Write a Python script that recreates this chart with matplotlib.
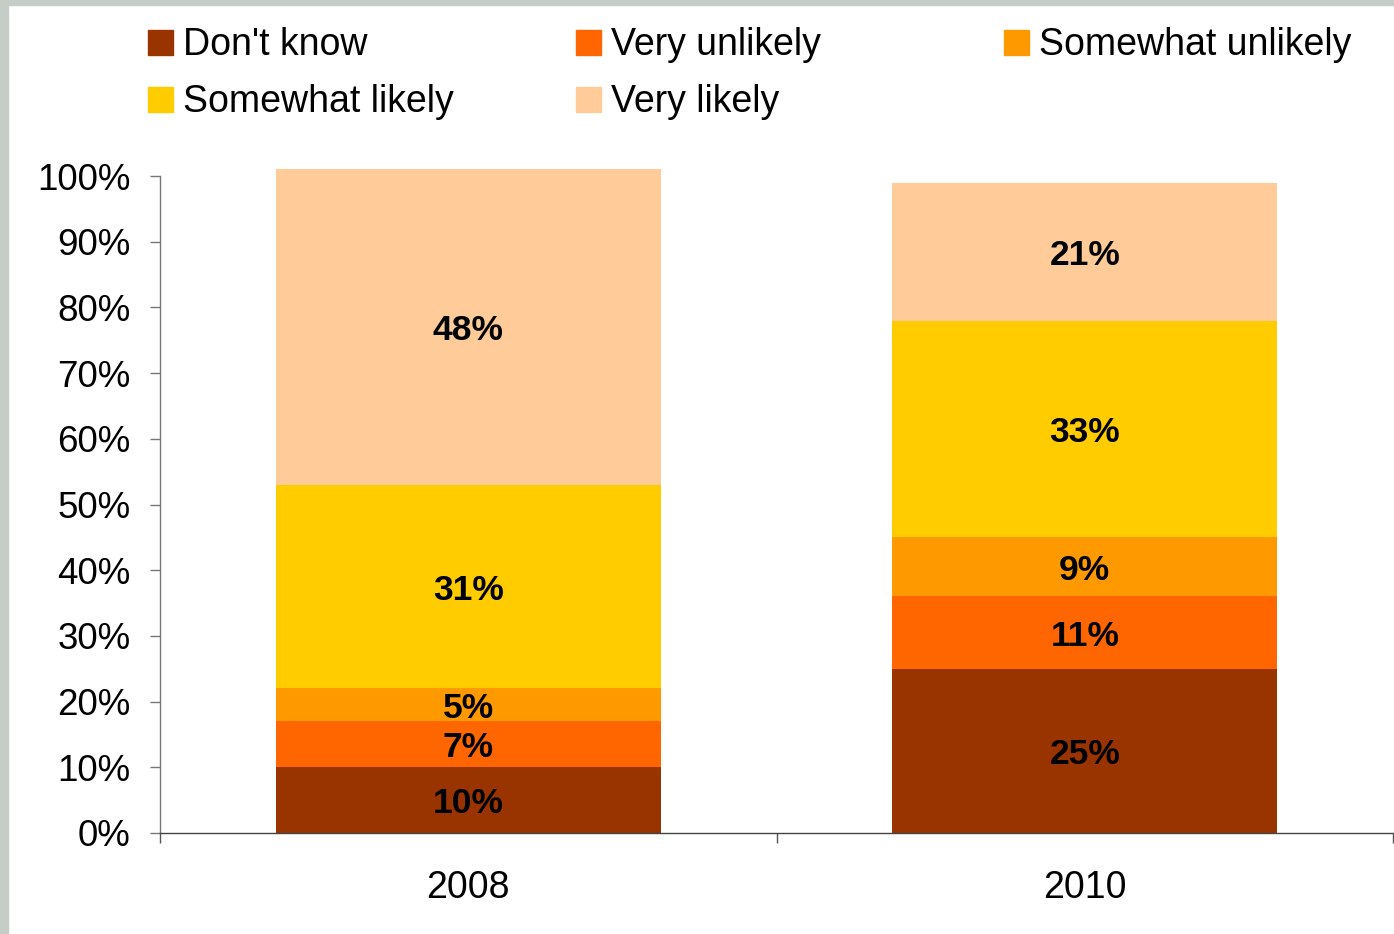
import matplotlib.pyplot as plt
from matplotlib.patches import Rectangle
from matplotlib.ticker import FixedLocator, PercentFormatter

plt.rcParams['font.family'] = ['Liberation Sans', 'DejaVu Sans']

years = ["2008", "2010"]
series = ["Don't know", "Very unlikely", "Somewhat unlikely", "Somewhat likely", "Very likely"]
dont_know = [10, 25]
very_unlikely = [7, 11]
somewhat_unlikely = [5, 9]
somewhat_likely = [31, 33]
very_likely = [48, 21]
colors = ["#993300", "#FF6600", "#FF9900", "#FFCC00", "#FFCC99"]

values = [dont_know, very_unlikely, somewhat_unlikely, somewhat_likely, very_likely]

W, H = 1394, 934
fig = plt.figure(figsize=(W / 100, H / 100), dpi=100)
fig.patch.set_facecolor("white")

# grey frame strips (top and left)
fig.patches.append(Rectangle((0, 1 - 5 / H), 1, 5 / H, transform=fig.transFigure,
                             color="#C6CDC6", zorder=0))
fig.patches.append(Rectangle((0, 0), 8 / W, 1, transform=fig.transFigure,
                             color="#C6CDC6", zorder=0))

ax = fig.add_axes([160 / W, 1 - 833 / H, (1393 - 160) / W, (833 - 176) / H])

x = range(len(years))
bottoms = [0] * len(years)
for name, vals, col in zip(series, values, colors):
    ax.bar(x, vals, width=0.625, bottom=bottoms, color=col, clip_on=False,
           zorder=2, label=name)
    for i, v in enumerate(vals):
        ax.text(i, bottoms[i] + v / 2, f"{v}%", ha="center", va="center_baseline",
                fontsize=25.5, fontweight="bold", color="black", zorder=3)
    bottoms = [b + v for b, v in zip(bottoms, vals)]

ax.set_xlim(-0.5, 1.5)
ax.set_ylim(0, 100)
ax.yaxis.set_major_locator(FixedLocator(range(0, 101, 10)))
ax.yaxis.set_major_formatter(PercentFormatter(decimals=0))
ax.set_xticks(list(x))
ax.set_xticklabels(years)
ax.xaxis.set_minor_locator(FixedLocator([-0.5, 0.5, 1.5]))

ax.tick_params(axis="y", direction="out", length=7, width=1, color="#777777",
               labelsize=26.5, pad=14)
ax.tick_params(axis="x", which="major", length=0, labelsize=27, pad=27)
ax.tick_params(axis="x", which="minor", direction="out", length=7, width=1,
               color="#555555")

for s in ["top", "right"]:
    ax.spines[s].set_visible(False)
ax.spines["left"].set_color("#777777")
ax.spines["bottom"].set_color("#444444")
ax.spines["left"].set_linewidth(1)
ax.spines["bottom"].set_linewidth(1)

# legend laid out like the original (equal column slots, row-major)
col_x = [148, 576, 1004]
row_y = [42, 99]
for k, (name, col) in enumerate(zip(series, colors)):
    r, c = divmod(k, 3)
    px, py = col_x[c], row_y[r]
    fig.patches.append(Rectangle((px / W, 1 - (py + 12.5) / H), 25 / W, 25 / H,
                                 transform=fig.transFigure, color=col))
    fig.text((px + 35) / W, 1 - (py - 1) / H, name, ha="left", va="center_baseline",
             fontsize=27, color="black")

fig.savefig("out.png", dpi=100)
